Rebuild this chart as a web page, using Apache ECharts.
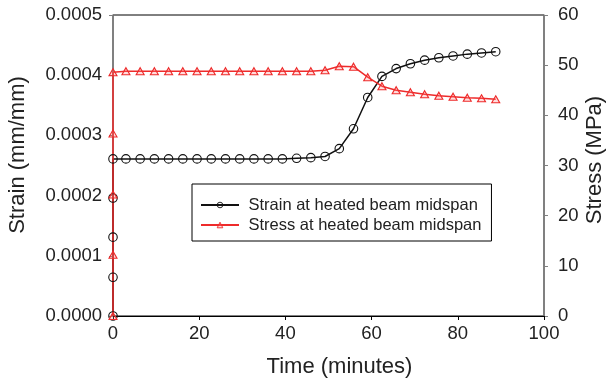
<!DOCTYPE html>
<html>
<head>
<meta charset="utf-8">
<script src="https://cdn.jsdelivr.net/npm/echarts@6/dist/echarts.min.js"></script>
<style>
  html, body { margin: 0; padding: 0; background: #fff; }
  #chart { width: 609px; height: 381px; }
</style>
</head>
<body>
<div id="chart"></div>
<script>
// Time (minutes) of each recorded reading; the first five are the initial loading at t = 0
const timeMin = [0, 0, 0, 0, 0,
  3.0, 6.3, 9.6, 12.9, 16.2, 19.5, 22.8, 26.1, 29.4, 32.7, 36.0, 39.3, 42.6, 45.9,
  49.2, 52.5, 55.8, 59.1, 62.4, 65.7, 69.0, 72.3, 75.6, 78.9, 82.2, 85.5, 88.8];

// Strain at heated beam midspan (mm/mm)
const strainVals = [0, 0.0000643, 0.000131, 0.000196, 0.000261,
  0.000261, 0.000261, 0.000261, 0.000261, 0.000261, 0.000261, 0.000261, 0.000261, 0.000261,
  0.000261, 0.000261, 0.000261, 0.000262, 0.000263, 0.000265, 0.000278, 0.000311, 0.000363,
  0.000398, 0.000411, 0.000419, 0.000425, 0.000429, 0.000432, 0.000435, 0.000437, 0.000439];

// Stress at heated beam midspan (MPa)
const stressVals = [0, 12.2, 24.2, 36.4, 48.6,
  48.8, 48.8, 48.8, 48.8, 48.8, 48.8, 48.8, 48.8, 48.8,
  48.8, 48.8, 48.8, 48.8, 48.8, 49.0, 49.8, 49.7, 47.6,
  45.8, 45.0, 44.6, 44.2, 43.9, 43.7, 43.5, 43.4, 43.2];

const xTicks = { min: 0, max: 100, interval: 20 };
const strainTicks = { min: 0, max: 0.0005, interval: 0.0001 };
const stressTicks = { min: 0, max: 60, interval: 10 };

const seriesNames = ['Strain at heated beam midspan', 'Stress at heated beam midspan'];

const FONT = 'Liberation Sans, Arial, Helvetica, sans-serif';
const RED = '#ee2b2b';
const GREY = '#808080';
const INK = '#222';

const strainData = timeMin.map((t, i) => [t, strainVals[i]]);
const stressData = timeMin.map((t, i) => [t, stressVals[i]]);

const chart = echarts.init(document.getElementById('chart'), null, { renderer: 'canvas' });

chart.setOption({
  animation: false,
  backgroundColor: '#fff',
  textStyle: { fontFamily: FONT, color: INK },
  grid: {
    left: 113, right: 65, top: 15, bottom: 65,
    outerBoundsMode: 'none',
    containLabel: false,
    show: true, borderColor: '#000', borderWidth: 1, backgroundColor: 'transparent'
  },
  legend: {
    orient: 'vertical',
    left: 192, top: 184,
    padding: [12.5, 10, 7.5, 8],
    itemGap: 3,
    itemWidth: 38, itemHeight: 7,
    borderColor: '#000', borderWidth: 1,
    backgroundColor: '#fff',
    itemStyle: { borderWidth: 0.9 },
    textStyle: { fontFamily: FONT, fontSize: 16.5, color: INK, padding: [0, 0, 0, 4.5] },
    data: seriesNames
  },
  xAxis: {
    type: 'value',
    min: xTicks.min, max: xTicks.max, interval: xTicks.interval,
    name: 'Time (minutes)',
    nameLocation: 'middle',
    nameGap: 40,
    nameMoveOverlap: false,
    nameTextStyle: { fontFamily: FONT, fontSize: 22, color: INK, padding: [0, 0, 0, 22] },
    axisLine: { show: true, onZero: false, lineStyle: { color: '#000', width: 1 } },
    axisTick: { show: true, inside: false, length: 4, lineStyle: { color: '#000' } },
    axisLabel: { fontFamily: FONT, fontSize: 18.5, color: INK, margin: 8 },
    splitLine: { show: false }
  },
  yAxis: [
    {
      type: 'value',
      position: 'left',
      min: strainTicks.min, max: strainTicks.max, interval: strainTicks.interval,
      name: 'Strain (mm/mm)',
      nameLocation: 'middle',
      nameGap: 84,
      nameMoveOverlap: false,
      nameTextStyle: { fontFamily: FONT, fontSize: 22, color: INK, padding: [0, 0, 0, 21] },
      axisLine: { show: true, lineStyle: { color: GREY, width: 1.5 } },
      axisTick: { show: true, inside: false, length: 4, lineStyle: { color: GREY } },
      axisLabel: {
        fontFamily: FONT, fontSize: 18.5, color: INK, margin: 11,
        formatter: v => v.toFixed(4)
      },
      splitLine: { show: false }
    },
    {
      type: 'value',
      position: 'right',
      min: stressTicks.min, max: stressTicks.max, interval: stressTicks.interval,
      name: 'Stress (MPa)',
      nameLocation: 'middle',
      nameRotate: 90,
      nameGap: 40,
      nameMoveOverlap: false,
      nameTextStyle: { fontFamily: FONT, fontSize: 22, color: INK, padding: [0, 0, 0, 11] },
      axisLine: { show: true, lineStyle: { color: GREY, width: 1.5 } },
      axisTick: { show: true, inside: false, length: 4, lineStyle: { color: GREY } },
      axisLabel: { fontFamily: FONT, fontSize: 18.5, color: INK, margin: 14 },
      splitLine: { show: false }
    }
  ],
  series: [
    {
      name: seriesNames[0],
      type: 'line',
      yAxisIndex: 0,
      data: strainData,
      symbol: 'circle',
      symbolSize: 8.5,
      showAllSymbol: true,
      lineStyle: { color: '#111', width: 1.5 },
      itemStyle: { color: 'rgba(255,255,255,0)', borderColor: '#111', borderWidth: 1.1 }
    },
    {
      name: seriesNames[1],
      type: 'line',
      yAxisIndex: 1,
      data: stressData,
      symbol: 'triangle',
      symbolSize: [8, 7],
      showAllSymbol: true,
      lineStyle: { color: RED, width: 1.5 },
      itemStyle: { color: 'rgba(255,120,120,0.25)', borderColor: RED, borderWidth: 1.1 }
    }
  ]
});
</script>
</body>
</html>
